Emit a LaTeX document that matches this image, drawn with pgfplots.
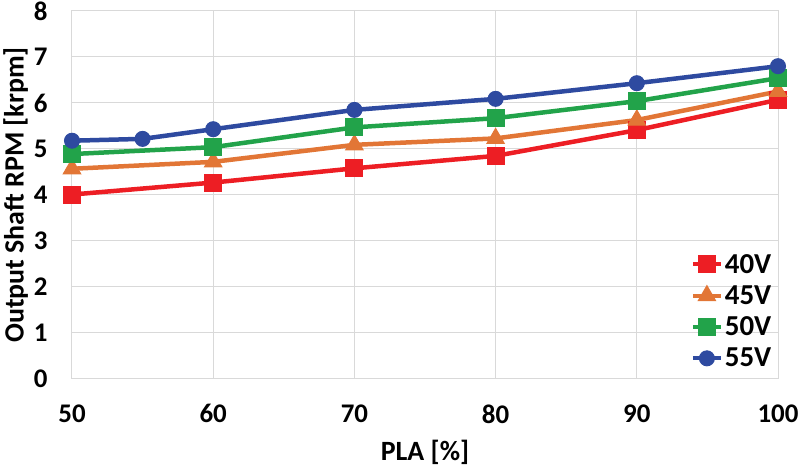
\documentclass[border=0pt]{standalone}
\usepackage{pgfplots}
\pgfplotsset{compat=1.18}
\usepackage{fontspec}
\setmainfont{Carlito}
\usetikzlibrary{calc}
\definecolor{cred}{RGB}{237,30,36}
\definecolor{corange}{RGB}{226,118,54}
\definecolor{cgreen}{RGB}{34,163,74}
\definecolor{cblue}{RGB}{46,74,160}
\definecolor{cgrid}{RGB}{217,217,217}
\begin{document}
\begin{tikzpicture}
\begin{axis}[name=ax,
  scale only axis, width=706bp, height=368bp,
  xmin=50, xmax=100, ymin=0, ymax=8,
  xtick={50,60,...,100}, ytick={0,1,...,8},
  grid=major, major grid style={draw=cgrid, line width=1bp},
  axis line style={draw=cgrid, line width=1bp},
  major tick length=0pt,
  clip=false,
  /pgf/number format/assume math mode=true,
  ticklabel style={font=\bfseries\fontsize{27}{30}\selectfont},
  xticklabel style={yshift=-22bp},
  yticklabel style={xshift=-21bp},
  xlabel={PLA [\%]}, ylabel={Output Shaft RPM [krpm]},
  label style={font=\bfseries\fontsize{28}{30}\selectfont},
  xlabel style={yshift=-10bp},
  ylabel style={yshift=-1bp},
  legend style={draw=none, fill=none, at={(0.995,0.02)}, anchor=south east,
    font=\bfseries\fontsize{29}{30}\selectfont, row sep=7bp, inner sep=1bp,
    /tikz/every even column/.append style={column sep=0pt}},
  legend cell align=left,
  legend image code/.code={\draw[mark repeat=2, mark phase=2, #1, line width=4bp] plot coordinates {(-6bp,0) (8bp,0) (22bp,0)};},
  every axis plot/.append style={line width=4.5bp},
]
\addplot[cred, mark=square*, mark size=8.5bp, mark options={rounded corners=2bp, line width=1bp}]
  coordinates {(50,4.01) (60,4.27) (70,4.58) (80,4.85) (90,5.41) (100,6.07)};
\addplot[corange, mark=triangle*, mark size=10bp, mark options={rounded corners=2bp, line width=1bp}]
  coordinates {(50,4.57) (60,4.72) (70,5.09) (80,5.23) (90,5.63) (100,6.25)};
\addplot[cgreen, mark=square*, mark size=8.5bp, mark options={rounded corners=2bp, line width=1bp}]
  coordinates {(50,4.89) (60,5.04) (70,5.47) (80,5.67) (90,6.04) (100,6.54)};
\addplot[cblue, mark=*, mark size=7.5bp, mark options={line width=1bp}]
  coordinates {(50,5.18) (55,5.22) (60,5.43) (70,5.85) (80,6.09) (90,6.43) (100,6.80)};
\legend{40V,45V,50V,55V}
\end{axis}
\pgfresetboundingbox
\path ($(ax.south west)+(-72bp,-88bp)$) rectangle ($(ax.north east)+(22bp,11bp)$);
\end{tikzpicture}
\end{document}
